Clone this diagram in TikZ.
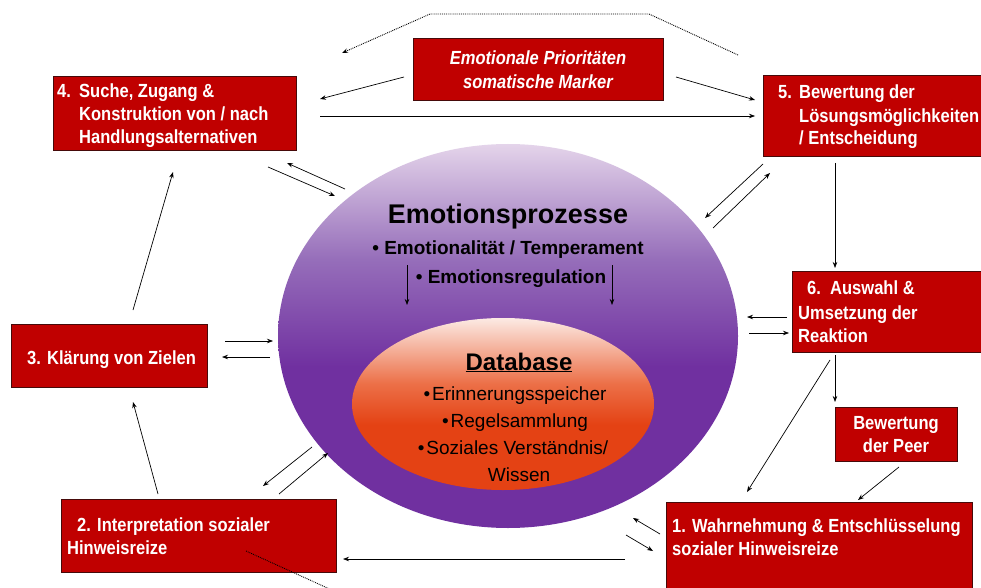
\documentclass[tikz,border=0pt]{standalone}
\usepackage{fontspec}
\setmainfont{Liberation Sans}
\newfontfamily\boxfont[FakeStretch=0.87]{Liberation Sans}
\usetikzlibrary{shapes.geometric,arrows.meta,shadows}
\definecolor{boxred}{RGB}{192,0,0}
\definecolor{boxedge}{RGB}{70,10,10}
\definecolor{purpD}{RGB}{112,48,160}
\definecolor{purpM}{RGB}{150,110,186}
\definecolor{purpL}{RGB}{228,212,234}
\definecolor{orD}{RGB}{228,66,20}
\definecolor{orM}{RGB}{236,112,72}
\definecolor{orL}{RGB}{252,234,228}
\pgfdeclareverticalshading{outershade}{100bp}{color(0bp)=(purpD); color(46bp)=(purpD); color(60bp)=(purpM); color(75bp)=(purpL); color(100bp)=(purpL)}
\pgfdeclareverticalshading{innershade}{100bp}{color(0bp)=(orD); color(44bp)=(orD); color(56bp)=(orM); color(75bp)=(orL); color(100bp)=(orL)}
\begin{document}
\begin{tikzpicture}[x=1pt,y=-1pt,
  box/.style={draw=boxedge, line width=0.6pt, fill=boxred, inner sep=0pt,
    drop shadow={shadow xshift=1.2pt, shadow yshift=-1.2pt, fill=black!35, opacity=1}},
  bt/.style={font=\boxfont\bfseries\fontsize{19}{22}\selectfont, text=white, inner sep=0pt, anchor=base west},
  btc/.style={bt, anchor=base},
  bti/.style={font=\boxfont\bfseries\itshape\fontsize{19}{22}\selectfont, text=white, inner sep=0pt, anchor=base},
  et/.style={inner sep=0pt, anchor=base, text=black},
  conn/.style={-{Stealth[length=6pt,width=4.5pt]}, line width=0.7pt, black},
  dots/.style={densely dotted, line width=0.9pt, black}
]
\clip (0,0) rectangle (981,588);
\fill[white] (0,0) rectangle (981,588);

% central ellipses
\node[ellipse, shading=outershade, minimum width=460pt, minimum height=384pt, inner sep=0pt] (emo) at (508,336) {};
\node[ellipse, shading=innershade, minimum width=302pt, minimum height=172pt, inner sep=0pt] (db) at (503,404) {};

% boxes
\node[box, minimum width=243pt, minimum height=74pt] (b4) at (174.5,113) {};
\node[box, minimum width=250pt, minimum height=62pt] (pr) at (538,69) {};
\node[box, minimum width=240pt, minimum height=81pt] (b5) at (883,115.5) {};
\node[box, minimum width=210pt, minimum height=81pt] (b6) at (897,311.5) {};
\node[box, minimum width=122pt, minimum height=54pt] (peer) at (896,434) {};
\node[box, minimum width=306pt, minimum height=98pt] (b1) at (819,551) {};
\node[box, minimum width=275pt, minimum height=73pt] (b2) at (198.5,535.5) {};
\node[box, minimum width=196pt, minimum height=63pt] (b3) at (109,355.5) {};

% box texts
\node[bt] (t4n) at (57,98) {4.};
\node[bt] (t4a) at (79,98) {Suche, Zugang \&};
\node[bt] (t4b) at (79,121) {Konstruktion von / nach};
\node[bt] (t4c) at (79,144) {Handlungsalternativen};

\node[bti] (tpa) at (538,65) {Emotionale Prioritäten};
\node[bti] (tpb) at (538,89) {somatische Marker};

\node[bt] (t5n) at (778,99) {5.};
\node[bt] (t5a) at (799,99) {Bewertung der};
\node[bt] (t5b) at (799,123) {Lösungsmöglichkeiten};
\node[bt] (t5c) at (799,145) {/ Entscheidung};

\node[bt] (t6n) at (807,294) {6.};
\node[bt] (t6a) at (830,294) {Auswahl \&};
\node[bt] (t6b) at (798,319) {Umsetzung der};
\node[bt] (t6c) at (798,342) {Reaktion};

\node[btc] (tpa1) at (896,429) {Bewertung};
\node[btc] (tpa2) at (896,452) {der Peer};

\node[bt] (t1a) at (672,532) {1. Wahrnehmung \& Entschlüsselung};
\node[bt] (t1b) at (672,555) {sozialer Hinweisreize};

\node[bt] (t2n) at (77,531) {2.};
\node[bt] (t2a) at (97,531) {Interpretation sozialer};
\node[bt] (t2b) at (67,554) {Hinweisreize};

\node[bt] (t3) at (27,364) {3. Klärung von Zielen};

% ellipse texts
\node[et, font=\bfseries\fontsize{27}{30}\selectfont] (ep) at (508,223) {Emotionsprozesse};
\node[et, font=\bfseries\fontsize{19}{22}\selectfont] (ep1) at (508,254) {• Emotionalität / Temperament};
\node[et, font=\bfseries\fontsize{19}{22}\selectfont] (ep2) at (511,283) {• Emotionsregulation};

\node[et, font=\bfseries\fontsize{24}{28}\selectfont] (dbt) at (519,370) {\underline{Database}};
\node[et, font=\fontsize{19}{22}\selectfont] (d1) at (515,400) {•\hspace{2pt}Erinnerungsspeicher};
\node[et, font=\fontsize{19}{22}\selectfont] (d2) at (515,427) {•\hspace{2pt}Regelsammlung};
\node[et, font=\fontsize{19}{22}\selectfont] (d3) at (513,454) {•\hspace{2pt}Soziales Verständnis/};
\node[et, font=\fontsize{19}{22}\selectfont] (d4) at (519,481) {Wissen};

% connector end points
\coordinate (dA) at (738,55);
\coordinate (dB) at (649,14);
\coordinate (dC) at (430,14);
\coordinate (dD) at (342,53);
\coordinate (prL) at (404,77);
\coordinate (b4R) at (320,99);
\coordinate (prR) at (676,77);
\coordinate (b5L) at (755,100);
\coordinate (b4h) at (320,116);
\coordinate (b5h) at (755,116);
\coordinate (a4s) at (268,167);
\coordinate (a4e) at (335,196);
\coordinate (a4s2) at (345,189);
\coordinate (a4e2) at (287,163);
\coordinate (a5s) at (763,164);
\coordinate (a5e) at (705,218);
\coordinate (a5s2) at (713,228);
\coordinate (a5e2) at (770,173);
\coordinate (a56s) at (835,163);
\coordinate (a56e) at (835,268);
\coordinate (a6s) at (787,317);
\coordinate (a6e) at (747,317);
\coordinate (a6s2) at (749,333);
\coordinate (a6e2) at (789,333);
\coordinate (a6ps) at (835,355);
\coordinate (a6pe) at (835,402);
\coordinate (a61s) at (830,360);
\coordinate (a61e) at (747,492);
\coordinate (ap1s) at (899,467);
\coordinate (ap1e) at (858,500);
\coordinate (a1s) at (660,534);
\coordinate (a1e) at (633,518);
\coordinate (a1s2) at (626,535);
\coordinate (a1e2) at (653,551);
\coordinate (a12s) at (625,559);
\coordinate (a12e) at (343,559);
\coordinate (dE) at (246,551);
\coordinate (dF) at (334,591);
\coordinate (a2s) at (312,447);
\coordinate (a2e) at (263,486);
\coordinate (a2s2) at (279,494);
\coordinate (a2e2) at (328,453);
\coordinate (a23s) at (158,494);
\coordinate (a23e) at (133,402);
\coordinate (a34s) at (133,310);
\coordinate (a34e) at (173,172);
\coordinate (a3s) at (225,341);
\coordinate (a3e) at (273,341);
\coordinate (a3s2) at (270,357);
\coordinate (a3e2) at (222,357);
\coordinate (erL1) at (407,265);
\coordinate (erL2) at (407,305);
\coordinate (erR1) at (612,265);
\coordinate (erR2) at (612,305);

% connectors
\draw[dots, -{Stealth[length=6pt,width=4.5pt]}] (dA) -- (dB) -- (dC) -- (dD);
\draw[conn] (prL) -- (b4R);
\draw[conn] (prR) -- (b5L);
\draw[conn] (b4h) -- (b5h);
\draw[conn] (a4s) -- (a4e);
\draw[conn] (a4s2) -- (a4e2);
\draw[conn] (a5s) -- (a5e);
\draw[conn] (a5s2) -- (a5e2);
\draw[conn] (a56s) -- (a56e);
\draw[conn] (a6s) -- (a6e);
\draw[conn] (a6s2) -- (a6e2);
\draw[conn] (a6ps) -- (a6pe);
\draw[conn] (a61s) -- (a61e);
\draw[conn] (ap1s) -- (ap1e);
\draw[conn] (a1s) -- (a1e);
\draw[conn] (a1s2) -- (a1e2);
\draw[conn] (a12s) -- (a12e);
\draw[dots] (dE) -- (dF);
\draw[conn] (a2s) -- (a2e);
\draw[conn] (a2s2) -- (a2e2);
\draw[conn] (a23s) -- (a23e);
\draw[conn] (a34s) -- (a34e);
\draw[conn] (a3s) -- (a3e);
\draw[conn] (a3s2) -- (a3e2);
\draw[conn] (erL1) -- (erL2);
\draw[conn] (erR1) -- (erR2);
\end{tikzpicture}
\end{document}
